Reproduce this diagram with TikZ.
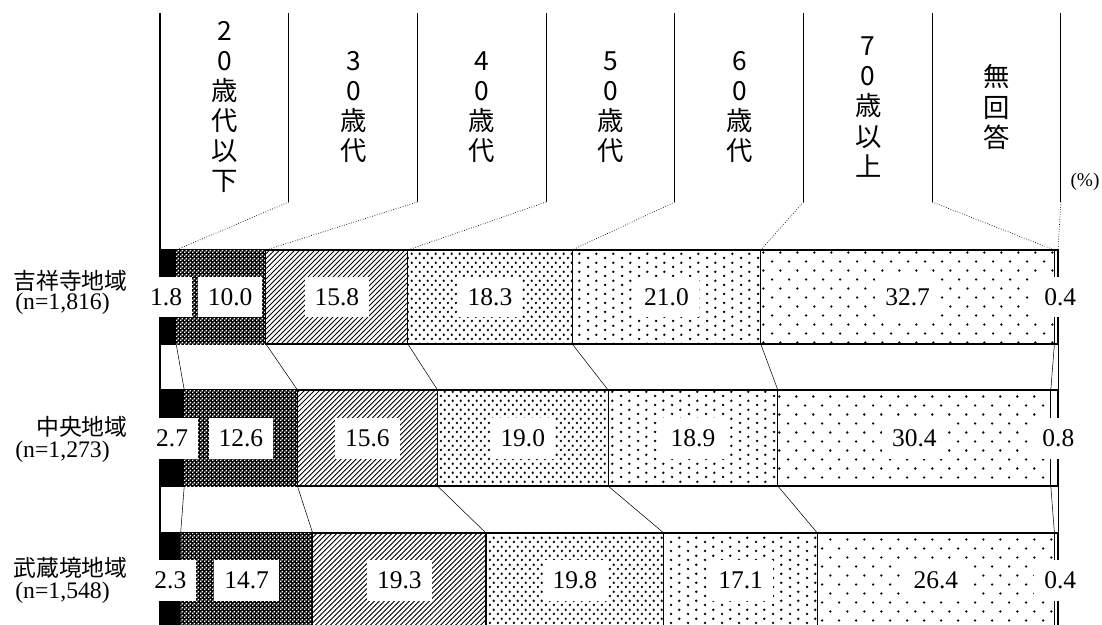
\documentclass[tikz,border=0pt]{standalone}
\usepackage{fontspec}
\setmainfont{Liberation Serif}
\newfontfamily\jpfont{Noto Sans CJK JP}
\usepackage{tikz}
\usetikzlibrary{patterns}

% fill patterns of the age groups
\pgfdeclarepatternformonly{holes}{\pgfqpoint{0pt}{0pt}}{\pgfqpoint{2.28pt}{2.28pt}}{\pgfqpoint{2.28pt}{2.28pt}}{%
  \pgfpathrectangle{\pgfqpoint{0.07pt}{0.07pt}}{\pgfqpoint{0.95pt}{0.95pt}}%
  \pgfpathrectangle{\pgfqpoint{1.21pt}{1.21pt}}{\pgfqpoint{0.95pt}{0.95pt}}%
  \pgfusepath{fill}}
\pgfdeclarepatternformonly{diaglines}{\pgfqpoint{-1pt}{-1pt}}{\pgfqpoint{3.85pt}{3.85pt}}{\pgfqpoint{2.85pt}{2.85pt}}{%
  \pgfsetlinewidth{0.5pt}%
  \pgfpathmoveto{\pgfqpoint{-0.1pt}{-0.1pt}}\pgfpathlineto{\pgfqpoint{2.95pt}{2.95pt}}%
  \pgfusepath{stroke}}
\pgfdeclarepatternformonly{densedots}{\pgfqpoint{0pt}{0pt}}{\pgfqpoint{4.72pt}{4.9pt}}{\pgfqpoint{4.72pt}{4.9pt}}{%
  \pgfpathcircle{\pgfqpoint{1.18pt}{1.22pt}}{0.78pt}%
  \pgfpathcircle{\pgfqpoint{3.54pt}{3.67pt}}{0.78pt}%
  \pgfusepath{fill}}
\pgfdeclarepatternformonly{middots}{\pgfqpoint{0pt}{0pt}}{\pgfqpoint{9.5pt}{4.9pt}}{\pgfqpoint{9.5pt}{4.9pt}}{%
  \pgfpathcircle{\pgfqpoint{2.37pt}{1.22pt}}{0.78pt}%
  \pgfpathcircle{\pgfqpoint{7.12pt}{3.67pt}}{0.78pt}%
  \pgfusepath{fill}}
\pgfdeclarepatternformonly{sparsedots}{\pgfqpoint{0pt}{0pt}}{\pgfqpoint{9.5pt}{10.24pt}}{\pgfqpoint{9.5pt}{10.24pt}}{%
  \pgfpathcircle{\pgfqpoint{2.37pt}{2.56pt}}{0.75pt}%
  \pgfpathcircle{\pgfqpoint{7.12pt}{7.68pt}}{0.75pt}%
  \pgfusepath{fill}}

\pgfdeclarelayer{bars}
\pgfsetlayers{bars,main}

\begin{document}
\begin{tikzpicture}[x=0.02cm, y=-0.02cm,
    barseg/.style={draw=black, line width=0.6pt},
    seg1/.style={fill=black},
    seg2/.style={fill=black, postaction={pattern=holes, pattern color=white}},
    seg3/.style={pattern=diaglines},
    seg4/.style={pattern=densedots},
    seg5/.style={pattern=middots},
    seg6/.style={pattern=sparsedots},
    seg7/.style={fill=white},
    vallabel/.style={fill=white, inner xsep=0.2cm, inner ysep=0pt, minimum height=0.82cm, font={\fontsize{14.5}{16}\selectfont}},
    grouplabel/.style={inner sep=0pt, font={\jpfont\fontsize{13}{15}\selectfont}},
    countlabel/.style={inner sep=0pt, font={\fontsize{13.5}{15}\selectfont}},
    agehead/.style={inner sep=0pt, align=center, font={\jpfont\fontsize{15}{17.1}\selectfont}},
    headline/.style={line width=0.6pt},
    headlink/.style={densely dotted, line width=0.4pt},
    barlink/.style={line width=0.3pt}]
    \useasboundingbox (0,0) rectangle (1102,625);
    \clip (0,0) rectangle (1102,625);

    % header columns
    \foreach \i in {0,...,7} {
        \coordinate (ht\i) at ({160+128.7*\i},13);
        \coordinate (hb\i) at ({160+128.7*\i},202);
    }
    \coordinate (axisend) at (160,627);
    \draw[headline] (ht0) -- (axisend);
    \foreach \i in {1,...,7}
        \draw[headline] (ht\i) -- (hb\i);

    \foreach \i/\txt in {1/{2\\0\\歳\\代\\以\\下}, 2/{3\\0\\歳\\代}, 3/{4\\0\\歳\\代}, 4/{5\\0\\歳\\代},
                         5/{6\\0\\歳\\代}, 6/{7\\0\\歳\\以\\上}, 7/{無\\回\\答}}
        \node[agehead] (age\i) at ({160+128.7*\i-64},107) {\txt};
    \node[countlabel, font={\fontsize{11}{13}\selectfont}] (pct) at (1085,182) {(\%)};

    % bars
    \foreach \i/\a/\b/\lab/\dx in {1/0/1.8/1.8/-2, 2/1.8/11.8/10.0/9, 3/11.8/27.6/15.8/0, 4/27.6/45.9/18.3/0,
                                   5/45.9/66.9/21.0/0, 6/66.9/99.6/32.7/0, 7/99.6/100/0.4/4} {
        \begin{pgfonlayer}{bars}
            \draw[barseg, seg\i] ({160+8.98*\a},250) rectangle ({160+8.98*\b},344);
        \end{pgfonlayer}
        \coordinate (k1t\i) at ({160+8.98*\b},250);
        \coordinate (k1b\i) at ({160+8.98*\b},344);
        \node[vallabel] (k1v\i) at ({160+8.98*(\a+\b)/2+\dx},297) {\lab};
    }
    \foreach \i/\a/\b/\lab/\dx in {1/0/2.7/2.7/0, 2/2.7/15.3/12.6/0, 3/15.3/30.9/15.6/0, 4/30.9/49.9/19.0/0,
                                   5/49.9/68.8/18.9/0, 6/68.8/99.2/30.4/0, 7/99.2/100/0.8/4} {
        \begin{pgfonlayer}{bars}
            \draw[barseg, seg\i] ({160+8.98*\a},390) rectangle ({160+8.98*\b},486);
        \end{pgfonlayer}
        \coordinate (k2t\i) at ({160+8.98*\b},390);
        \coordinate (k2b\i) at ({160+8.98*\b},486);
        \node[vallabel] (k2v\i) at ({160+8.98*(\a+\b)/2+\dx},438) {\lab};
    }
    \foreach \i/\a/\b/\lab/\dx in {1/0/2.3/2.3/0, 2/2.3/17.0/14.7/0, 3/17.0/36.3/19.3/0, 4/36.3/56.1/19.8/0,
                                   5/56.1/73.2/17.1/0, 6/73.2/99.6/26.4/0, 7/99.6/100/0.4/4} {
        \begin{pgfonlayer}{bars}
            \draw[barseg, seg\i] ({160+8.98*\a},533) rectangle ({160+8.98*\b},627);
        \end{pgfonlayer}
        \coordinate (k3t\i) at ({160+8.98*\b},533);
        \node[vallabel] (k3v\i) at ({160+8.98*(\a+\b)/2+\dx},580) {\lab};
    }

    % links
    \foreach \i in {1,...,7} {
        \draw[headlink] (hb\i) -- (k1t\i);
        \draw[barlink] (k1b\i) -- (k2t\i);
        \draw[barlink] (k2b\i) -- (k3t\i);
    }

    % area names
    \node[grouplabel, anchor=east] (g1) at (128,281) {吉祥寺地域};
    \node[countlabel, anchor=west] (n1) at (15,304) {(n=1,816)};
    \node[grouplabel, anchor=east] (g2) at (128,427) {中央地域};
    \node[countlabel, anchor=west] (n2) at (15,452) {(n=1,273)};
    \node[grouplabel, anchor=east] (g3) at (128,568) {武蔵境地域};
    \node[countlabel, anchor=west] (n3) at (15,593) {(n=1,548)};
\end{tikzpicture}
\end{document}
